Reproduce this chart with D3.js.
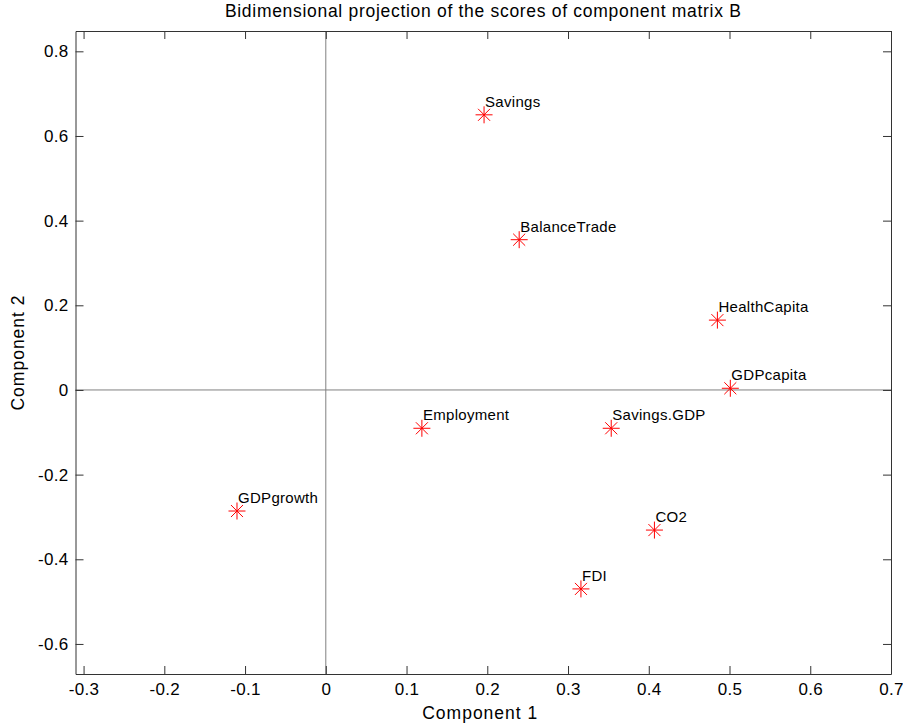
<!DOCTYPE html>
<html>
<head>
<meta charset="utf-8">
<script src="https://cdn.jsdelivr.net/npm/d3@7"></script>
<style>
  body { margin: 0; background: #fff; }
  svg { display: block; font-family: Arial, "Liberation Sans", Helvetica, sans-serif; }
</style>
</head>
<body>
<svg id="chart" width="903" height="727"></svg>
<script>
// variable names and their scores on components 1 and 2
const names = ["Savings", "BalanceTrade", "HealthCapita", "GDPcapita", "Employment",
  "Savings.GDP", "GDPgrowth", "CO2", "FDI"];
const comp1 = [0.196, 0.2395, 0.485, 0.501, 0.119, 0.3535, -0.110, 0.407, 0.316];
const comp2 = [0.650, 0.355, 0.165, 0.004, -0.0905, -0.0905, -0.286, -0.331, -0.470];

const xTicks = [-0.3, -0.2, -0.1, 0, 0.1, 0.2, 0.3, 0.4, 0.5, 0.6, 0.7];
const yTicks = [-0.6, -0.4, -0.2, 0, 0.2, 0.4, 0.6, 0.8];

const svg = d3.select("#chart");
// plot box edges
const boxL = 75.5, boxR = 891, boxT = 31, boxB = 674;

const x = d3.scaleLinear().domain([-0.31, 0.7]).range([boxL, boxR]);
const y = d3.scaleLinear().domain([-0.671, 0.848]).range([boxB, boxT]);

// plain hyphen for negatives, like the original
const fmt = (d) => (d === 0 ? "0" : (d < 0 ? "-" : "") + Math.abs(d).toFixed(1));
const tickLen = 8;

// zero lines
svg.append("line")
  .attr("x1", x(0)).attr("x2", x(0))
  .attr("y1", boxT).attr("y2", boxB)
  .attr("stroke", "#808080").attr("stroke-width", 1);
svg.append("line")
  .attr("x1", boxL).attr("x2", boxR)
  .attr("y1", y(0)).attr("y2", y(0))
  .attr("stroke", "#808080").attr("stroke-width", 1);

// axes: ticks inward on all four sides
const styleAxis = (g) => {
  g.select(".domain").attr("stroke", "#333");
  g.selectAll(".tick line").attr("stroke", "#333");
  g.selectAll("text").attr("font-size", 17).attr("fill", "#000")
    .attr("letter-spacing", 0.3)
    .attr("font-family", "Arial, 'Liberation Sans', sans-serif");
};

svg.append("g")
  .attr("transform", `translate(0,${boxB})`)
  .call(d3.axisBottom(x).tickValues(xTicks).tickFormat(fmt)
    .tickSizeInner(-tickLen).tickSizeOuter(0).tickPadding(9))
  .call(styleAxis);
svg.append("g")
  .attr("transform", `translate(0,${boxT})`)
  .call(d3.axisTop(x).tickValues(xTicks).tickFormat("")
    .tickSizeInner(-tickLen).tickSizeOuter(0))
  .call(styleAxis);
svg.append("g")
  .attr("transform", `translate(${boxL},0)`)
  .call(d3.axisLeft(y).tickValues(yTicks).tickFormat(fmt)
    .tickSizeInner(-tickLen).tickSizeOuter(0).tickPadding(7))
  .call(styleAxis);
svg.append("g")
  .attr("transform", `translate(${boxR},0)`)
  .call(d3.axisRight(y).tickValues(yTicks).tickFormat("")
    .tickSizeInner(-tickLen).tickSizeOuter(0))
  .call(styleAxis);

// points as asterisks
const pts = names.map((n, i) => ({ name: n, c1: comp1[i], c2: comp2[i] }));
const r = 8.5;
const spokes = d3.range(4).map((k) => (k * Math.PI) / 4);

const pg = svg.append("g").selectAll("g")
  .data(pts)
  .join("g")
  .attr("transform", (d) => `translate(${x(d.c1)},${y(d.c2)})`);

spokes.forEach((a) => {
  pg.append("line")
    .attr("x1", -r * Math.cos(a)).attr("y1", -r * Math.sin(a))
    .attr("x2", r * Math.cos(a)).attr("y2", r * Math.sin(a))
    .attr("stroke", "#ff0000").attr("stroke-width", 1);
});

pg.append("text")
  .attr("x", 1).attr("y", -8)
  .attr("font-size", 15)
  .attr("letter-spacing", 0.3)
  .attr("fill", "#000")
  .text((d) => d.name);

// title and axis labels
svg.append("text")
  .attr("x", (boxL + boxR) / 2).attr("y", 17)
  .attr("text-anchor", "middle").attr("font-size", 17.5)
  .attr("letter-spacing", 0.7)
  .text("Bidimensional projection of the scores of component matrix B");
svg.append("text")
  .attr("x", (boxL + boxR) / 2 - 3).attr("y", 719)
  .attr("text-anchor", "middle").attr("font-size", 17.5)
  .attr("letter-spacing", 1)
  .text("Component 1");
svg.append("text")
  .attr("transform", `translate(24,${(boxT + boxB) / 2}) rotate(-90)`)
  .attr("text-anchor", "middle").attr("font-size", 17.5)
  .attr("letter-spacing", 1)
  .text("Component 2");
</script>
</body>
</html>
